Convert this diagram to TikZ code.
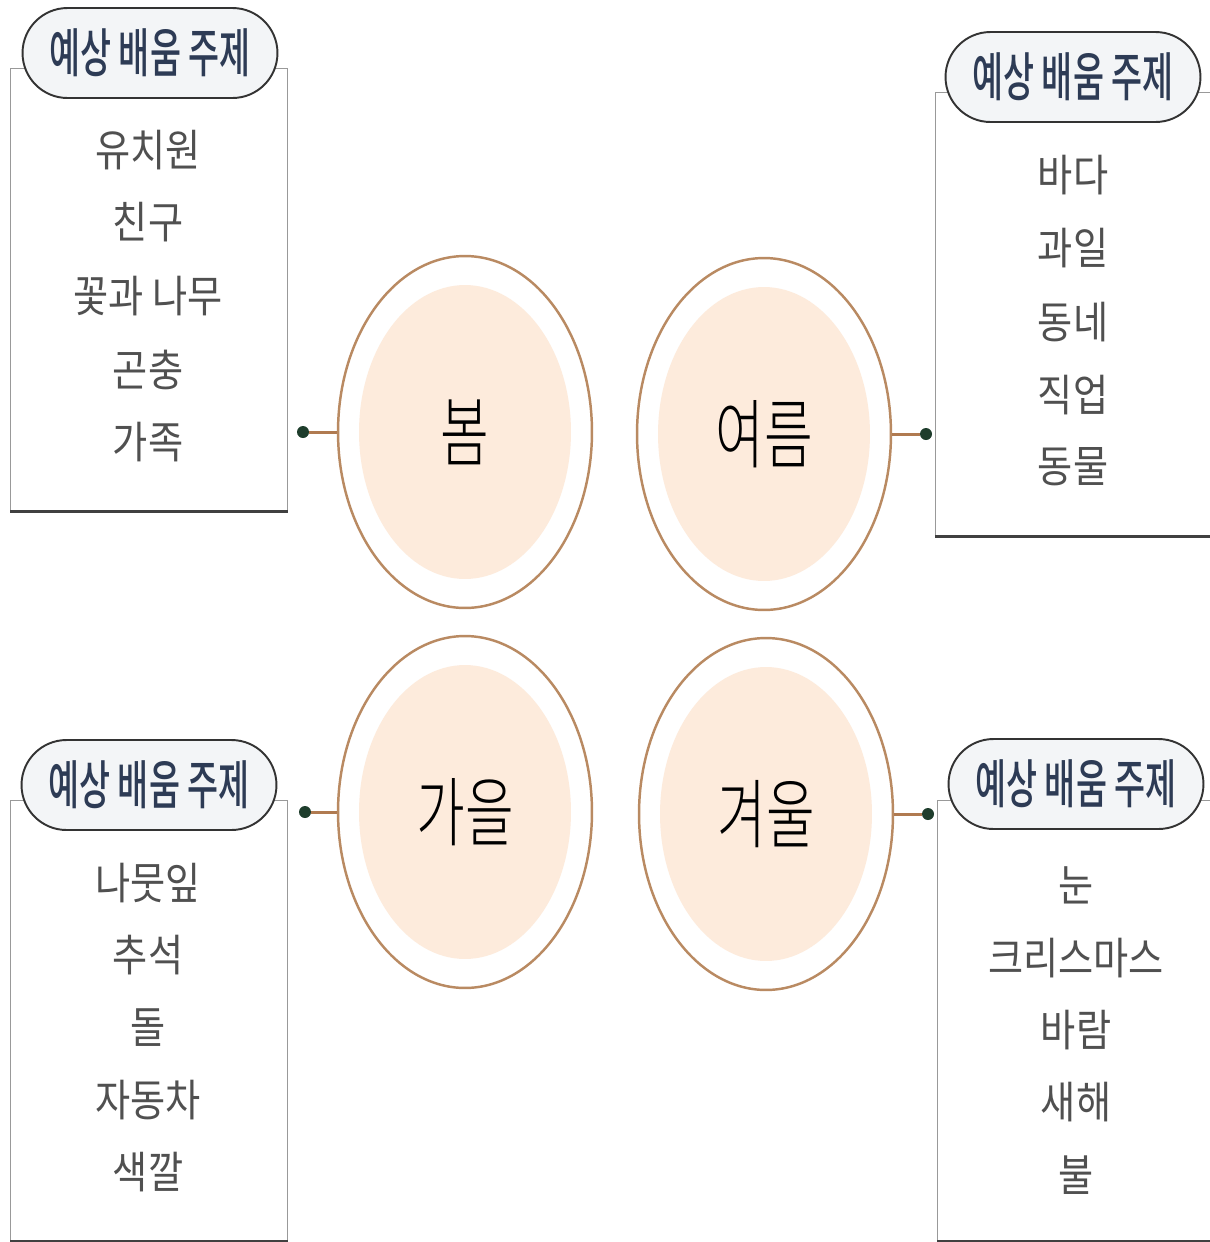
\documentclass[tikz,border=0pt]{standalone}
\usepackage{fontspec}
\usepackage{xcolor}
\usetikzlibrary{shapes.geometric}
\newfontfamily\itemfont[FakeStretch=0.87]{Noto Sans CJK KR}
\newfontfamily\tabfont[FakeStretch=0.64,UprightFont=* Medium]{Noto Sans CJK KR}
\newfontfamily\seasonfont[FakeStretch=0.7,UprightFont=* Light]{Noto Sans CJK KR}
\definecolor{ringbrown}{HTML}{B98A62}
\definecolor{linkbrown}{HTML}{B07A50}
\definecolor{peach}{HTML}{FDEBDC}
\definecolor{dotgreen}{HTML}{1E3D2C}
\definecolor{tabnavy}{HTML}{2D3B55}
\definecolor{tabfill}{HTML}{F3F5F7}
\definecolor{itemgray}{HTML}{505050}

\begin{document}
\begin{tikzpicture}[x=0.02cm,y=-0.02cm,
       ring/.style={draw=ringbrown,line width=1.4pt,fill=white,ellipse,
         minimum width=5.08cm,minimum height=7.04cm,inner sep=0pt},
       core/.style={fill=peach,ellipse,minimum width=4.24cm,minimum height=5.88cm,
         inner sep=0pt,font=\seasonfont\fontsize{43pt}{43pt}\selectfont},
       listbox/.style={draw=gray!80,line width=0.8pt,anchor=north west,
         minimum height=8.84cm,inner sep=0pt},
       boxfoot/.style={draw=black!75,line width=1.7pt},
       tab/.style={draw=black!80,line width=1.1pt,fill=tabfill,rounded corners=0.9cm,
         minimum width=5.1cm,minimum height=1.8cm,text=tabnavy,
         font=\tabfont\fontsize{30pt}{30pt}\selectfont},
       item/.style={text=itemgray,font=\itemfont\fontsize{25pt}{25pt}\selectfont},
       link/.style={draw=linkbrown,line width=1.7pt},
       dot/.style={circle,fill=dotgreen,minimum size=0.24cm,inner sep=0pt}]
    \useasboundingbox (0,0) rectangle (1210,1242);

    % boxes
    \node[listbox,minimum width=5.54cm] (springbox) at (10,68) {};
    \draw[boxfoot] (springbox.south west) -- (springbox.south east);
    \node[listbox,minimum width=5.8cm,minimum height=8.86cm] (summerbox) at (935,92) {};
    \draw[boxfoot] (summerbox.south west) -- (summerbox.south east);
    \node[listbox,minimum width=5.54cm,minimum height=8.8cm] (autumnbox) at (10,800) {};
    \draw[boxfoot] (autumnbox.south west) -- (autumnbox.south east);
    \node[listbox,minimum width=5.8cm,minimum height=8.8cm] (winterbox) at (937,800) {};
    \draw[boxfoot] (winterbox.south west) -- (winterbox.south east);

    % tabs
    \node[tab] (springtab) at (150,53) {예상 배움 주제};
    \node[tab] (summertab) at (1073,77) {예상 배움 주제};
    \node[tab] (autumntab) at (149,785) {예상 배움 주제};
    \node[tab] (wintertab) at (1076,784) {예상 배움 주제};

    % spring topics
    \node[item] (s1) at (148,150) {유치원};
    \node[item] (s2) at (148,222) {친구};
    \node[item] (s3) at (148,296) {꽃과 나무};
    \node[item] (s4) at (148,370) {곤충};
    \node[item] (s5) at (148,442) {가족};
    % summer topics
    \node[item] (m1) at (1073,175) {바다};
    \node[item] (m2) at (1073,248) {과일};
    \node[item] (m3) at (1073,322) {동네};
    \node[item] (m4) at (1073,395) {직업};
    \node[item] (m5) at (1073,467) {동물};
    % autumn topics
    \node[item] (a1) at (148,883) {나뭇잎};
    \node[item] (a2) at (148,955) {추석};
    \node[item] (a3) at (148,1028) {돌};
    \node[item] (a4) at (148,1100) {자동차};
    \node[item] (a5) at (148,1172) {색깔};
    % winter topics
    \node[item] (w1) at (1076,885) {눈};
    \node[item] (w2) at (1076,958) {크리스마스};
    \node[item] (w3) at (1076,1030) {바람};
    \node[item] (w4) at (1076,1102) {새해};
    \node[item] (w5) at (1076,1175) {불};

    % seasons
    \node[ring] (spring) at (465,432) {};
    \node[core] (springcore) at (spring) {봄};
    \node[ring] (summer) at (764,434) {};
    \node[core] (summercore) at (summer) {여름};
    \node[ring] (autumn) at (465,812) {};
    \node[core] (autumncore) at (autumn) {가을};
    \node[ring] (winter) at (766,814) {};
    \node[core] (wintercore) at (winter) {겨울};

    % connectors
    \node[dot] (springdot) at (303,432) {};
    \draw[link] (springdot) -- (spring.west);
    \node[dot] (summerdot) at (926,434) {};
    \draw[link] (summer.east) -- (summerdot);
    \node[dot] (autumndot) at (305,812) {};
    \draw[link] (autumndot) -- (autumn.west);
    \node[dot] (winterdot) at (928,814) {};
    \draw[link] (winter.east) -- (winterdot);
\end{tikzpicture}
\end{document}
